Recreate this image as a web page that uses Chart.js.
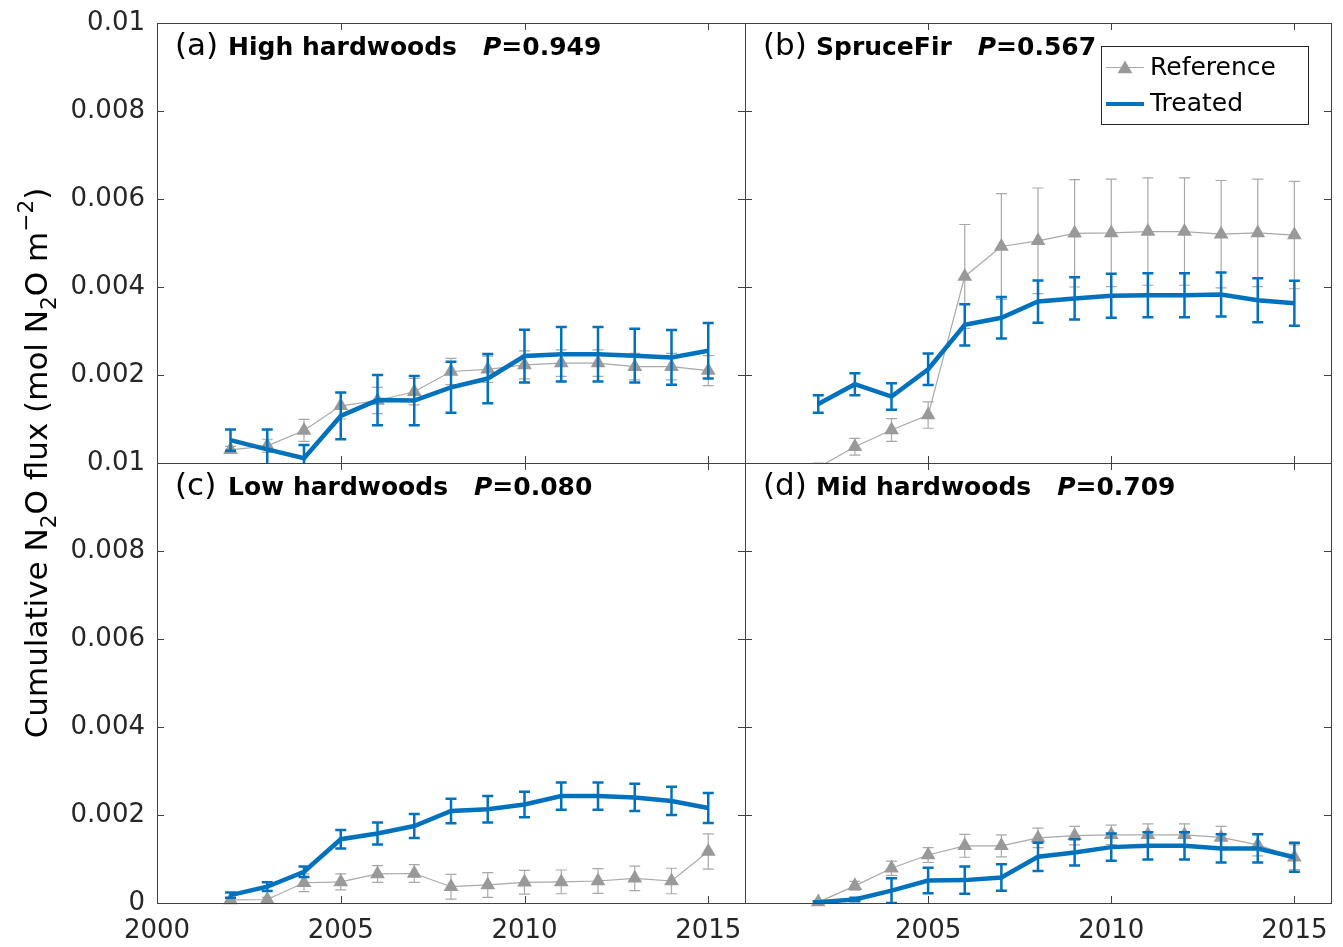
<!DOCTYPE html>
<html><head><meta charset="utf-8">
<script src="https://cdn.jsdelivr.net/npm/chart.js@4.4.1/dist/chart.umd.min.js"></script>
<style>
html,body{margin:0;padding:0;background:#fff;}
#wrap{position:relative;width:1343px;height:947px;background:#fff;}
#wrap canvas{position:absolute;left:0;top:0;}
</style></head><body>
<div id="wrap">
<canvas id="ca" width="1343" height="947"></canvas>
<canvas id="cb" width="1343" height="947"></canvas>
<canvas id="cc" width="1343" height="947"></canvas>
<canvas id="cd" width="1343" height="947"></canvas>
</div>
<script>
// ---------- data ----------
const years = [2002,2003,2004,2005,2006,2007,2008,2009,2010,2011,2012,2013,2014,2015];
const xTickValues = [2000,2005,2010,2015];
const yTickValues = [0,0.002,0.004,0.006,0.008,0.01];

const panelLetters = ['(a)','(b)','(c)','(d)'];
const panelNames = ['High hardwoods','SpruceFir','Low hardwoods','Mid hardwoods'];
const panelP = ['0.949','0.567','0.080','0.709'];
const seriesNames = ['Reference','Treated'];

const refA    = [0.00030,0.00039,0.00074,0.00130,0.00142,0.00162,0.00208,0.00213,0.00223,0.00227,0.00227,0.00219,0.00219,0.00210];
const refAErr = [0.00008,0.00015,0.00025,0.00030,0.00030,0.00030,0.00030,0.00030,0.00032,0.00030,0.00030,0.00030,0.00030,0.00034];
const trtA    = [0.00052,0.00031,0.00011,0.00107,0.00143,0.00142,0.00172,0.00192,0.00243,0.00247,0.00247,0.00244,0.00240,0.00255];
const trtAErr = [0.00024,0.00045,0.00030,0.00053,0.00057,0.00056,0.00058,0.00056,0.00060,0.00062,0.00062,0.00061,0.00062,0.00063];

const refB    = [-0.00010,0.00037,0.00075,0.00109,0.00424,0.00492,0.00505,0.00522,0.00523,0.00526,0.00526,0.00520,0.00523,0.00518];
const refBErr = [0.00010,0.00019,0.00026,0.00030,0.00118,0.00120,0.00120,0.00122,0.00122,0.00122,0.00122,0.00122,0.00122,0.00122];
const trtB    = [0.00134,0.00179,0.00151,0.00213,0.00314,0.00330,0.00367,0.00374,0.00380,0.00381,0.00381,0.00383,0.00370,0.00363];
const trtBErr = [0.00020,0.00025,0.00030,0.00036,0.00047,0.00047,0.00048,0.00048,0.00050,0.00050,0.00050,0.00050,0.00050,0.00051];

const refC    = [0.00007,0.00008,0.00046,0.00048,0.00066,0.00067,0.00037,0.00041,0.00047,0.00048,0.00050,0.00056,0.00050,0.00117];
const refCErr = [0.00005,0.00005,0.00020,0.00018,0.00019,0.00020,0.00028,0.00028,0.00027,0.00027,0.00028,0.00028,0.00029,0.00040];
const trtC    = [0.00018,0.00037,0.00071,0.00145,0.00158,0.00175,0.00209,0.00213,0.00224,0.00243,0.00243,0.00240,0.00232,0.00216];
const trtCErr = [0.00006,0.00010,0.00012,0.00021,0.00025,0.00027,0.00028,0.00030,0.00029,0.00031,0.00031,0.00031,0.00032,0.00034];

const refD    = [0.00002,0.00039,0.00079,0.00109,0.00130,0.00130,0.00148,0.00153,0.00155,0.00155,0.00155,0.00149,0.00132,0.00104];
const refDErr = [0.00003,0.00010,0.00016,0.00017,0.00026,0.00025,0.00022,0.00021,0.00022,0.00025,0.00025,0.00025,0.00025,0.00028];
const trtD    = [0.00002,0.00008,0.00028,0.00051,0.00052,0.00058,0.00105,0.00115,0.00127,0.00130,0.00130,0.00124,0.00124,0.00104];
const trtDErr = [0.00002,0.00004,0.00028,0.00029,0.00031,0.00030,0.00032,0.00030,0.00031,0.00031,0.00031,0.00032,0.00032,0.00033];

// ---------- styling ----------
const W = 1343, H = 947;
const BLUE = '#0072BD';
const GRAY = '#999999';
const GRAYLINE = '#a8a8a8';
const AXIS = '#404040';
const TXT = '#262626';
const FONT = 'DejaVu Sans';

function fmtY(v){
  if (Math.abs(v) < 1e-12) return '0';
  if (Math.abs(v-0.01) < 1e-9) return '0.01';
  return v.toFixed(3);
}

const panels = [
  {id:'ca', k:0, L:157, T:23,  R:745,  B:463, ref:refA, refErr:refAErr, trt:trtA, trtErr:trtAErr,
   yLabels:[0.002,0.004,0.006,0.008,0.01], xLabels:[], bottomClip:0, legend:false, yTitle:false},
  {id:'cb', k:1, L:745, T:23,  R:1331, B:463, ref:refB, refErr:refBErr, trt:trtB, trtErr:trtBErr,
   yLabels:[], xLabels:[], bottomClip:0, legend:true, yTitle:false},
  {id:'cc', k:2, L:157, T:463, R:745,  B:903, ref:refC, refErr:refCErr, trt:trtC, trtErr:trtCErr,
   yLabels:[0,0.002,0.004,0.006,0.008,0.01], xLabels:[2000,2005,2010,2015], bottomClip:8, legend:false, yTitle:true},
  {id:'cd', k:3, L:745, T:463, R:1331, B:903, ref:refD, refErr:refDErr, trt:trtD, trtErr:trtDErr,
   yLabels:[], xLabels:[2005,2010,2015], bottomClip:8, legend:false, yTitle:false}
];

const errorBarPlugin = {
  id:'errorBars',
  beforeDatasetDraw(chart, args){
    const ds = chart.data.datasets[args.index];
    if (!ds.errors) return;
    const xs = chart.scales.x, ys = chart.scales.y, a = chart.chartArea, ctx = chart.ctx;
    ctx.save();
    ctx.beginPath();
    ctx.rect(a.left, a.top, a.right - a.left, a.bottom - a.top);
    ctx.clip();
    ctx.strokeStyle = ds.errColor;
    ctx.lineWidth = ds.errWidth;
    const cap = 5.5;
    ds.data.forEach((pt, i) => {
      const e = ds.errors[i];
      const x = xs.getPixelForValue(pt.x);
      const y1 = ys.getPixelForValue(pt.y + e);
      const y2 = ys.getPixelForValue(pt.y - e);
      ctx.beginPath();
      ctx.moveTo(x, y1); ctx.lineTo(x, y2);
      ctx.moveTo(x - cap, y1); ctx.lineTo(x + cap, y1);
      ctx.moveTo(x - cap, y2); ctx.lineTo(x + cap, y2);
      ctx.stroke();
    });
    ctx.restore();
  }
};

function drawTri(ctx, x, y, r){
  ctx.beginPath();
  ctx.moveTo(x, y - r);
  ctx.lineTo(x + r*Math.sin(2*Math.PI/3), y - r*Math.cos(2*Math.PI/3));
  ctx.lineTo(x + r*Math.sin(4*Math.PI/3), y - r*Math.cos(4*Math.PI/3));
  ctx.closePath();
  ctx.fill();
}

const framePlugin = {
  id:'frame',
  afterDraw(chart){
    const p = chart.options.plugins.frame;
    const ctx = chart.ctx, a = chart.chartArea;
    const xs = chart.scales.x, ys = chart.scales.y;
    ctx.save();
    // box
    ctx.strokeStyle = AXIS; ctx.lineWidth = 1;
    ctx.strokeRect(Math.round(a.left)+0.5, Math.round(a.top)+0.5, Math.round(a.right-a.left), Math.round(a.bottom-a.top));
    // inward ticks
    const tl = 7;
    ctx.beginPath();
    yTickValues.forEach(v => {
      const y = Math.round(ys.getPixelForValue(v)) + 0.5;
      ctx.moveTo(a.left, y); ctx.lineTo(a.left + tl, y);
      ctx.moveTo(a.right, y); ctx.lineTo(a.right - tl, y);
    });
    xTickValues.forEach(v => {
      const x = Math.round(xs.getPixelForValue(v)) + 0.5;
      ctx.moveTo(x, a.bottom); ctx.lineTo(x, a.bottom - tl);
      ctx.moveTo(x, a.top); ctx.lineTo(x, a.top + tl);
    });
    ctx.stroke();

    // panel title
    const k = p.k;
    const by = a.top + 32;
    ctx.fillStyle = '#000';
    ctx.textBaseline = 'alphabetic';
    ctx.textAlign = 'left';
    ctx.font = '31px "' + FONT + '"';
    ctx.fillText(panelLetters[k], a.left + 18, by);
    ctx.font = 'bold 25px "' + FONT + '"';
    const nx = a.left + 71;
    ctx.fillText(panelNames[k], nx, by);
    let px = nx + ctx.measureText(panelNames[k]).width + 26;
    ctx.font = 'italic bold 25px "' + FONT + '"';
    ctx.fillText('P', px, by);
    px += ctx.measureText('P').width;
    ctx.font = 'bold 25px "' + FONT + '"';
    ctx.fillText('=' + panelP[k], px, by);

    // legend
    if (p.legend){
      const lx = 1101, ly = 46, lw = 207, lh = 78;
      ctx.fillStyle = '#fff';
      ctx.fillRect(lx, ly, lw, lh);
      ctx.strokeStyle = '#262626'; ctx.lineWidth = 1;
      ctx.strokeRect(lx + 0.5, ly + 0.5, lw, lh);
      ctx.strokeStyle = GRAYLINE; ctx.lineWidth = 1;
      ctx.beginPath(); ctx.moveTo(1106, 67.5); ctx.lineTo(1144, 67.5); ctx.stroke();
      ctx.fillStyle = GRAY;
      drawTri(ctx, 1125, 69, 8.5);
      ctx.strokeStyle = BLUE; ctx.lineWidth = 4;
      ctx.beginPath(); ctx.moveTo(1106, 104); ctx.lineTo(1144, 104); ctx.stroke();
      ctx.fillStyle = '#000';
      ctx.font = '25px "' + FONT + '"';
      ctx.textBaseline = 'middle';
      ctx.fillText(seriesNames[0], 1150, 68);
      ctx.fillText(seriesNames[1], 1150, 104);
    }

    // y title
    if (p.yTitle){
      const fs = 31;
      const segs = [
        ['Cumulative N', 1, 0], ['2', 0.7, 0.28], ['O flux (mol N', 1, 0], ['2', 0.7, 0.28],
        ['O m', 1, 0], ['\u22122', 0.7, -0.45], [')', 1, 0]
      ];
      let total = 0;
      segs.forEach(s => { ctx.font = (fs*s[1]) + 'px "' + FONT + '"'; total += ctx.measureText(s[0]).width; });
      ctx.translate(47, 463);
      ctx.rotate(-Math.PI/2);
      ctx.fillStyle = '#000';
      ctx.textBaseline = 'alphabetic';
      let cx = -total/2;
      segs.forEach(s => {
        ctx.font = (fs*s[1]) + 'px "' + FONT + '"';
        ctx.fillText(s[0], cx, s[2]*fs);
        cx += ctx.measureText(s[0]).width;
      });
    }
    ctx.restore();
  }
};

function makeChart(p){
  const yw = p.L, xh = 44;
  const clip = {left:0, top:0, right:0, bottom:p.bottomClip};
  new Chart(document.getElementById(p.id), {
    type:'line',
    data:{
      datasets:[
        {label:seriesNames[1], data:years.map((x,i)=>({x:x, y:p.trt[i]})), borderColor:BLUE, backgroundColor:BLUE,
         borderWidth:4.5, pointRadius:0, tension:0, order:0, clip:clip,
         errors:p.trtErr, errColor:BLUE, errWidth:2.5},
        {label:seriesNames[0], data:years.map((x,i)=>({x:x, y:p.ref[i]})), borderColor:GRAYLINE, backgroundColor:GRAY,
         borderWidth:1.2, pointStyle:'triangle',
         pointRadius:c => (c.raw && c.raw.y < 0) ? 0 : 8.5,
         pointBackgroundColor:GRAY, pointBorderColor:GRAY,
         pointBorderWidth:0, tension:0, order:1, clip:clip,
         errors:p.refErr, errColor:GRAYLINE, errWidth:1.2}
      ]
    },
    options:{
      responsive:false, animation:false, devicePixelRatio:1,
      events:[],
      layout:{padding:{left:p.L - yw, top:p.T, right:W - p.R, bottom:H - p.B - xh}},
      plugins:{legend:{display:false}, tooltip:{enabled:false}, frame:{k:p.k, legend:p.legend, yTitle:p.yTitle}},
      scales:{
        x:{type:'linear', position:'bottom', min:2000, max:2016,
           afterBuildTicks:s => { s.ticks = xTickValues.map(v => ({value:v})); },
           afterFit:s => { s.height = xh; s.paddingLeft = 0; s.paddingRight = 0; },
           grid:{display:false, drawTicks:false}, border:{display:false},
           ticks:{display:p.xLabels.length > 0, autoSkip:false, maxRotation:0, padding:13, color:TXT,
                  font:{family:FONT, size:26},
                  callback:v => p.xLabels.includes(v) ? String(v) : ''}},
        y:{type:'linear', position:'left', min:0, max:0.01,
           afterBuildTicks:s => { s.ticks = yTickValues.map(v => ({value:v})); },
           afterFit:s => { s.width = yw; s.paddingTop = 0; s.paddingBottom = 0; },
           grid:{display:false, drawTicks:false}, border:{display:false},
           ticks:{display:p.yLabels.length > 0, autoSkip:false, padding:12, color:TXT,
                  font:{family:FONT, size:26},
                  callback:v => p.yLabels.some(t => Math.abs(t - v) < 1e-9) ? fmtY(v) : ''}}
      }
    },
    plugins:[errorBarPlugin, framePlugin]
  });
}

panels.forEach(makeChart);
</script>
</body></html>
